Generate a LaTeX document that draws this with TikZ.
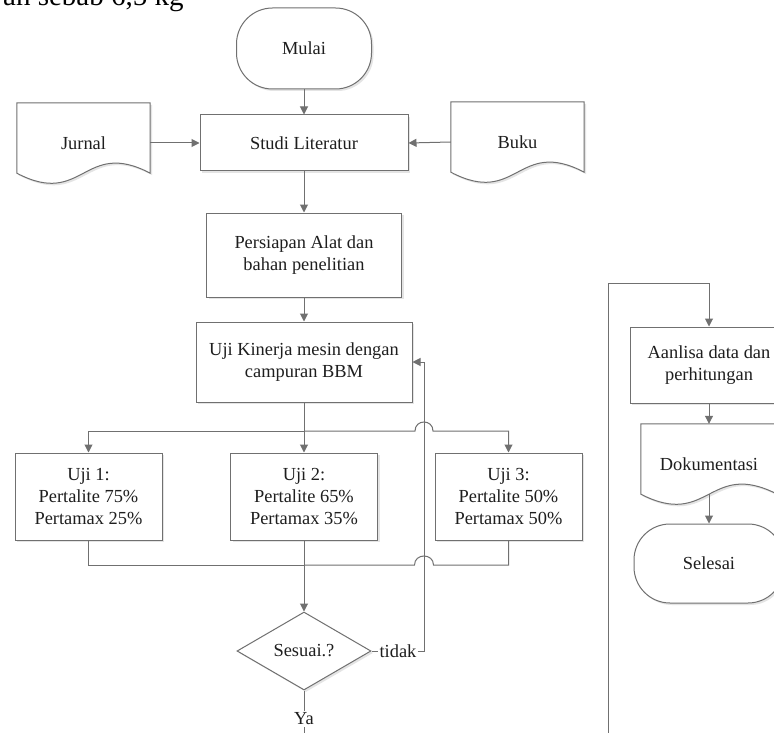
\documentclass[tikz,border=0pt]{standalone}
\usepackage{fontspec}
\setmainfont{Liberation Serif}
\usetikzlibrary{arrows.meta,shapes.geometric,shadows,backgrounds}
\definecolor{ln}{RGB}{112,112,112}
\definecolor{tx}{RGB}{30,30,30}
\definecolor{shd}{RGB}{228,228,228}
\newcommand\docoutline[1]{%
  \begin{scope}[on background layer]
    \begin{scope}[transform canvas={shift={(2pt,-2pt)}}]
      \fill[shd] (#1.north west) -- (#1.north east) -- ([yshift=10pt]#1.south east)
        .. controls ([yshift=45pt]#1.south) and ([yshift=-25pt]#1.south) .. ([yshift=10pt]#1.south west) -- cycle;
    \end{scope}
    \draw[outl,fill=white] (#1.north west) -- (#1.north east) -- ([yshift=10pt]#1.south east)
      .. controls ([yshift=45pt]#1.south) and ([yshift=-25pt]#1.south) .. ([yshift=10pt]#1.south west) -- cycle;
  \end{scope}}
\tikzset{
  outl/.style={draw=ln, line width=1pt},
  txtfont/.style={font=\fontsize{18.4pt}{22pt}\selectfont, text=tx},
  box/.style={rectangle, outl, fill=white, txtfont, align=center, inner sep=2pt,
    drop shadow={shadow xshift=2pt, shadow yshift=-2pt, fill=shd, opacity=1}},
  term/.style={box, rounded corners=36pt},
  doc/.style={rectangle, draw=none, txtfont, align=center, inner sep=0pt},
  dec/.style={diamond, outl, fill=white, txtfont, inner sep=0pt,
    drop shadow={shadow xshift=2pt, shadow yshift=-2pt, fill=shd, opacity=1}},
  lbl/.style={txtfont, inner sep=1pt},
  conn/.style={draw=ln, line width=1pt},
  arr/.style={conn, -{Triangle[length=8pt,width=8pt]}}
}
\begin{document}
\begin{tikzpicture}[x=1pt,y=-1pt]
\useasboundingbox (0,0) rectangle (774,733);
\clip (0,0) rectangle (774,733);
\begin{scope}[on background layer]
  \fill[white] (0,0) rectangle (774,733);
\end{scope}

% clipped body text line at the top
\node[anchor=base west, inner sep=0pt, font=\fontsize{29pt}{30pt}\selectfont, text=black] (toptext) at (3,5.5) {an sebab 6,5 kg};

% nodes
\node[term, minimum width=135pt, minimum height=81pt] (mulai) at (304,48.5) {Mulai};
\node[box, minimum width=208pt, minimum height=56pt] (studi) at (304,143) {Studi Literatur};
\node[doc, minimum width=133pt, minimum height=80pt] (jurnal) at (83.5,143) {Jurnal};
\docoutline{jurnal}
\node[doc, minimum width=133pt, minimum height=80pt] (buku) at (517.5,142) {Buku};
\docoutline{buku}
\node[box, minimum width=195pt, minimum height=84pt] (persiapan) at (304,255) {Persiapan Alat dan\\bahan penelitian};
\node[box, minimum width=216pt, minimum height=80pt] (kinerja) at (304,362) {Uji Kinerja mesin dengan\\campuran BBM};
\node[box, minimum width=147pt, minimum height=87pt] (uji1) at (88.5,496.5) {Uji 1:\\Pertalite 75\%\\Pertamax 25\%};
\node[box, minimum width=147pt, minimum height=87pt] (uji2) at (304,496.5) {Uji 2:\\Pertalite 65\%\\Pertamax 35\%};
\node[box, minimum width=147pt, minimum height=87pt] (uji3) at (508.5,496.5) {Uji 3:\\Pertalite 50\%\\Pertamax 50\%};
\node[dec, minimum width=134pt, minimum height=78pt] (dec) at (304,651) {Sesuai.?};
\node[lbl] (tidak) at (398,651) {tidak};
\node[lbl, inner sep=2pt] (ya) at (304,719) {Ya};

\node[box, minimum width=158pt, minimum height=76pt] (aanlisa) at (709,365) {Aanlisa data dan\\perhitungan};
\node[doc, minimum width=136pt, minimum height=80pt] (dokum) at (709,464) {Dokumentasi};
\docoutline{dokum}
\node[term, minimum width=150pt, minimum height=79pt] (selesai) at (709,563.5) {Selesai};

% coordinates
\coordinate (br) at (304,431);
\coordinate (h1l) at (415,431);
\coordinate (h1r) at (433,431);
\coordinate (mg) at (304,565);
\coordinate (h2l) at (414.5,565);
\coordinate (h2r) at (433.5,565);
\coordinate (fb) at (424,651);
\coordinate (bt) at (304,745);
\coordinate (rb) at (608,745);
\coordinate (rt) at (608,283);

% connectors
\draw[arr] (mulai) -- (studi);
\draw[arr] (jurnal.east) -- (studi.west);
\draw[arr] (buku.west) -- (studi.east);
\draw[arr] (studi) -- (persiapan);
\draw[arr] (persiapan) -- (kinerja);
\draw[arr] (kinerja.south) -- (uji2.north);
\draw[arr] (br) -| (uji1.north);
\draw[arr] (br) -- (h1l) .. controls (415,419) and (433,419) .. (h1r) -| (uji3.north);
\draw[conn] (uji1.south) |- (mg);
\draw[conn] (uji3.south) |- (h2r) .. controls (433.5,553) and (414.5,553) .. (h2l) -- (mg);
\draw[arr] (uji2.south) -- (dec.north);
\draw[conn] (dec.east) -- (tidak.west);
\draw[arr] (tidak.east) -- (fb) |- (kinerja.east);
\draw[conn] (dec.south) -- (ya.north);
\draw[conn] (ya.south) -- (bt);

\draw[arr] (rb) -- (rt) -| (aanlisa.north);
\draw[arr] (aanlisa) -- (dokum);
\draw[arr] ([yshift=10pt]dokum.south) -- (selesai.north);
\end{tikzpicture}
\end{document}
